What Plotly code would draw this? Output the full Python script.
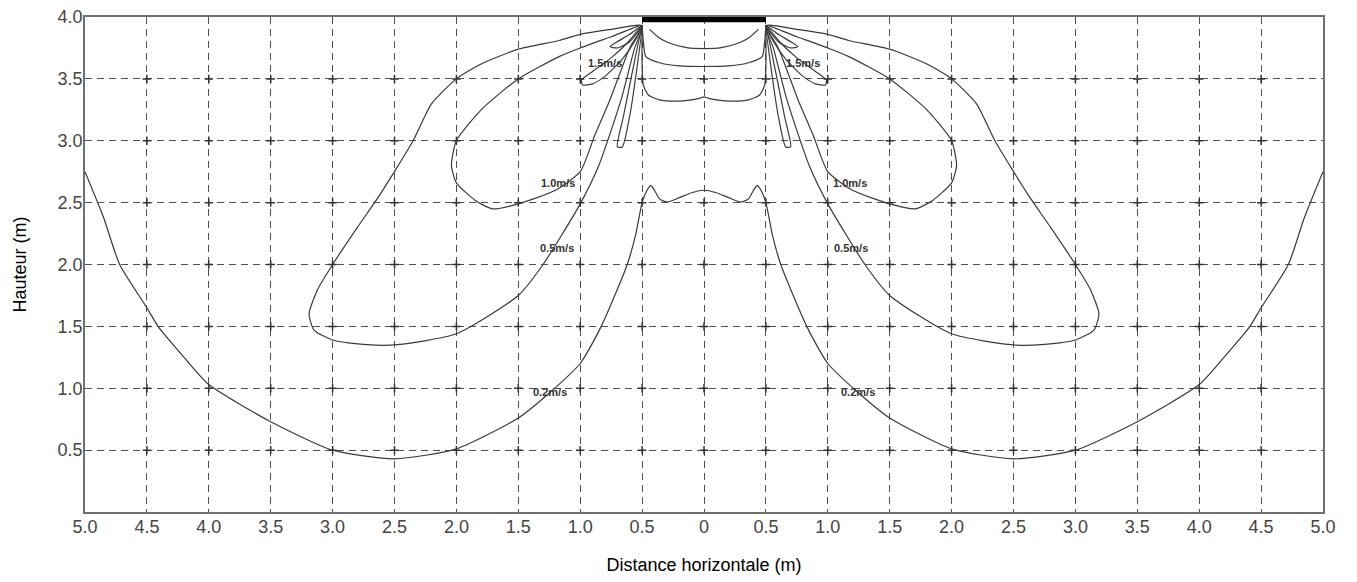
import plotly.graph_objects as go

# ---------------- data (left half; right half is the mirror image) ----------------
c02_x = [-5.0, -4.85, -4.72, -4.5, -4.41, -4.2, -4.0, -3.5, -3.0, -2.5, -2.0, -1.5, -1.24, -1.0, -0.83, -0.62, -0.55, -0.5, -0.46, -0.43, -0.40, -0.36, -0.3, -0.2, -0.1, 0.0]
c02_y = [2.75, 2.38, 2.0, 1.65, 1.5, 1.25, 1.03, 0.73, 0.5, 0.43, 0.51, 0.76, 0.97, 1.2, 1.5, 2.0, 2.25, 2.5, 2.6, 2.64, 2.6, 2.53, 2.505, 2.54, 2.58, 2.6]

c05_x = [-0.5, -0.75, -1.0, -1.17, -1.5, -1.8, -2.0, -2.2, -2.35, -2.62, -2.8, -3.0, -3.12, -3.19, -3.15, -3.0, -2.75, -2.5, -2.0, -1.5, -1.3, -1.0, -0.85, -0.67, -0.56, -0.5]
c05_y = [3.93, 3.9, 3.86, 3.81, 3.74, 3.62, 3.5, 3.3, 3.0, 2.56, 2.3, 2.0, 1.8, 1.6, 1.47, 1.39, 1.355, 1.35, 1.44, 1.75, 2.0, 2.49, 2.8, 3.33, 3.75, 3.93]

c10_x = [-0.5, -0.75, -1.0, -1.17, -1.5, -1.8, -2.0, -2.04, -2.0, -1.85, -1.71, -1.5, -1.2, -1.0, -0.88, -0.76, -0.6, -0.5]
c10_y = [3.93, 3.84, 3.75, 3.68, 3.5, 3.25, 3.0, 2.8, 2.66, 2.52, 2.45, 2.49, 2.6, 2.75, 3.05, 3.33, 3.75, 3.93]

c15_x = [-0.5, -0.62, -0.75, -0.9, -0.99, -0.98, -0.9, -0.8, -0.66, -0.55, -0.5]
c15_y = [3.93, 3.79, 3.67, 3.56, 3.49, 3.45, 3.46, 3.52, 3.66, 3.82, 3.93]

c20_x = [-0.5, -0.6, -0.7, -0.76, -0.7, -0.6, -0.5]
c20_y = [3.93, 3.86, 3.8, 3.76, 3.75, 3.8, 3.93]

fan_x = [-0.5, -0.58, -0.65, -0.7, -0.66, -0.6, -0.54, -0.5]
fan_y = [3.93, 3.55, 3.2, 2.95, 2.95, 3.2, 3.6, 3.93]

in1_x = [-0.44, -0.36, -0.28, -0.14, 0.0]
in1_y = [3.9, 3.83, 3.79, 3.752, 3.745]
in2_x = [-0.5, -0.49, -0.47, -0.36, -0.2, 0.0]
in2_y = [3.93, 3.8, 3.68, 3.63, 3.605, 3.6]
in3_x = [-0.5, -0.5, -0.49, -0.45, -0.36, -0.22, -0.1, -0.03, 0.0]
in3_y = [3.93, 3.6, 3.45, 3.37, 3.33, 3.32, 3.33, 3.345, 3.355]

label_text = ["1.5m/s", "1.0m/s", "0.5m/s", "0.2m/s"]
label_x = [0.8, 1.18, 1.19, 1.24]
label_y = [3.63, 2.66, 2.13, 0.97]

tick_vals = [-5, -4.5, -4, -3.5, -3, -2.5, -2, -1.5, -1, -0.5, 0, 0.5, 1, 1.5, 2, 2.5, 3, 3.5, 4, 4.5, 5]
tick_text = ["5.0", "4.5", "4.0", "3.5", "3.0", "2.5", "2.0", "1.5", "1.0", "0.5", "0", "0.5", "1.0", "1.5", "2.0", "2.5", "3.0", "3.5", "4.0", "4.5", "5.0"]
ytick_vals = [0.5, 1.0, 1.5, 2.0, 2.5, 3.0, 3.5, 4.0]
ytick_text = ["0.5", "1.0", "1.5", "2.0", "2.5", "3.0", "3.5", "4.0"]

# ---------------- figure ----------------
fig = go.Figure()
line_style = dict(color="#3a3a3a", width=1.2, shape="spline", smoothing=0.6)


def sym_full(xs, ys):
    """Join left half with its mirror (for curves crossing x=0)."""
    xr = [-v for v in reversed(xs[:-1])]
    yr = list(reversed(ys[:-1]))
    return xs + xr, ys + yr


# gridline intersection crosses
gx, gy = [], []
for xv in tick_vals[1:-1]:
    for yv in ytick_vals[:-1]:
        gx.append(xv)
        gy.append(yv)
fig.add_trace(go.Scatter(x=gx, y=gy, mode="markers", hoverinfo="skip",
                         marker=dict(symbol="cross-thin", size=6,
                                     line=dict(color="#333", width=1.5))))

for xs, ys in [(c02_x, c02_y), (in1_x, in1_y), (in2_x, in2_y), (in3_x, in3_y)]:
    fx, fy = sym_full(xs, ys)
    fig.add_trace(go.Scatter(x=fx, y=fy, mode="lines", line=line_style, hoverinfo="skip"))

for xs, ys in [(c05_x, c05_y), (c10_x, c10_y), (c15_x, c15_y), (c20_x, c20_y), (fan_x, fan_y)]:
    fig.add_trace(go.Scatter(x=xs, y=ys, mode="lines", line=line_style, hoverinfo="skip"))
    fig.add_trace(go.Scatter(x=[-v for v in xs], y=ys, mode="lines", line=line_style, hoverinfo="skip"))

# labels (both sides)
for t, lx, ly in zip(label_text, label_x, label_y):
    for s in (-1, 1):
        fig.add_annotation(x=s * lx, y=ly, text="<b>" + t + "</b>", showarrow=False,
                           font=dict(family="Arial", size=11, color="#333"))

# diffuser bar
fig.add_shape(type="rect", x0=-0.5, x1=0.5, y0=3.958, y1=4.0, fillcolor="black",
              line=dict(width=0))

axis_common = dict(showgrid=True, gridcolor="#505050", griddash="7px,5px", gridwidth=1.4,
                   zeroline=False, showline=True, linecolor="#707070", linewidth=1.8, mirror=True,
                   ticks="", automargin=False, ticklabeloverflow="allow",
                   tickfont=dict(family="Arial", size=18, color="#444"))

fig.update_xaxes(range=[-5, 5], tickvals=tick_vals, ticktext=tick_text, ticklabelstandoff=-3,
                 title=dict(text="Distance horizontale (m)", font=dict(family="Arial", size=18, color="black"),
                            standoff=23),
                 **axis_common)
fig.update_yaxes(range=[0, 4], tickvals=ytick_vals, ticktext=ytick_text, ticklabelstandoff=-3,
                 title=dict(text="Hauteur (m)", font=dict(family="Arial", size=18, color="black"),
                            standoff=26),
                 **axis_common)

# page body has an 8px margin: size the figure so the plot area lands where the reference has it
fig.update_layout(width=1349, height=574, showlegend=False,
                  margin=dict(l=77, r=34, t=9, b=70),
                  plot_bgcolor="white", paper_bgcolor="white")

fig.write_html("out.html")
